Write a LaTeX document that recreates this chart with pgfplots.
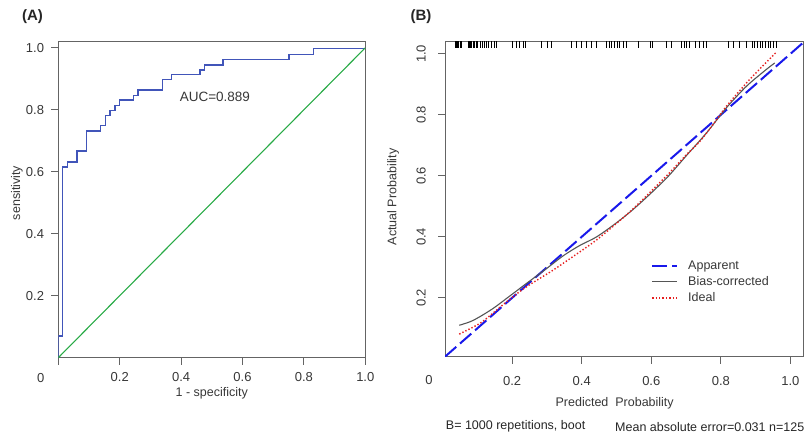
\documentclass[border=0pt]{standalone}
\usepackage{pgfplots}
\pgfplotsset{compat=1.18}
\usepackage{fontspec}
\setmainfont{Liberation Sans}
\definecolor{roc}{RGB}{65,85,185}
\definecolor{diag}{RGB}{40,170,70}
\definecolor{framec}{RGB}{100,100,100}
\definecolor{txt}{RGB}{55,55,55}
\definecolor{appblue}{RGB}{25,25,235}
\definecolor{biasgray}{RGB}{85,85,85}
\definecolor{idealred}{RGB}{230,30,30}
\pgfplotsset{
  common/.style={
    scale only axis,
    clip mode=individual,
    axis line style={framec, line width=0.9pt},
    tick style={framec, line width=0.9pt},
    tick align=outside,
    major tick length=7pt,
    xtick pos=bottom, ytick pos=left,
    tick label style={font=\fontsize{13}{15}\selectfont, text=txt},
    /pgf/number format/assume math mode=true,
    label style={font=\fontsize{12.5}{14}\selectfont, text=txt},
  }
}
\begin{document}
\begin{tikzpicture}[x=1pt,y=1pt]
\path[use as bounding box] (0,0) rectangle (804,436);
% ---------------- Panel A ----------------
\begin{axis}[common,
  width=307pt, height=316.7pt,
  at={(58.3pt,78.3pt)}, anchor=south west,
  xmin=0, xmax=1, ymin=0, ymax=1.022,
  xtick={0,0.2,0.4,0.6,0.8,1.0}, xticklabels={,0.2,0.4,0.6,0.8,1.0},
  ytick={0.2,0.4,0.6,0.8,1.0}, yticklabels={0.2,0.4,0.6,0.8,1.0},
  xticklabel style={anchor=center, yshift=-12.5pt, inner sep=0pt},
  yticklabel style={anchor=center, xshift=-16.3pt},
  xlabel={1 - specificity},
  ylabel={sensitivity},
  xlabel style={at={(axis description cs:0.5,-0.112)}, anchor=center, inner sep=0pt},
  ylabel style={at={(axis description cs:-0.1345,0.52)}, anchor=center},
]
\addplot[roc, line width=1.4pt] coordinates {
(0,0) (0,0.07) (0.013,0.07) (0.013,0.616) (0.029,0.616) (0.029,0.632)
(0.061,0.632) (0.061,0.667) (0.092,0.667) (0.092,0.732) (0.138,0.732)
(0.138,0.750) (0.153,0.750) (0.153,0.782) (0.169,0.782) (0.169,0.798)
(0.185,0.798) (0.185,0.814) (0.199,0.814) (0.199,0.831) (0.244,0.831)
(0.244,0.847) (0.259,0.847) (0.259,0.864) (0.339,0.864) (0.339,0.897)
(0.369,0.897) (0.369,0.913) (0.462,0.913) (0.462,0.929) (0.476,0.929)
(0.476,0.945) (0.536,0.945) (0.536,0.962) (0.752,0.962) (0.752,0.978)
(0.831,0.978) (0.831,0.998) (1.0,0.998)
};
\addplot[diag, line width=1.1pt] coordinates {(0,0) (1,1)};
\node[font=\fontsize{13.5}{15}\selectfont, text=txt] at (axis cs:0.51,0.842) {AUC=0.889};
\node[font=\fontsize{13}{15}\selectfont, text=txt] at (axis description cs:-0.057,-0.064) {0};
\node[font=\bfseries\fontsize{15}{17}\selectfont, text=black!85] at (axis description cs:-0.084,1.076) {(A)};
\end{axis}
% ---------------- Panel B ----------------
\begin{axis}[common,
  width=358.3pt, height=315.7pt,
  at={(445pt,79.3pt)}, anchor=south west,
  xmin=0.007, xmax=1.037, ymin=0.007, ymax=1.042,
  xtick={0.2,0.4,0.6,0.8,1.0}, xticklabels={0.2,0.4,0.6,0.8,1.0},
  ytick={0.2,0.4,0.6,0.8,1.0}, yticklabels={0.2,0.4,0.6,0.8,1.0},
  xticklabel style={anchor=center, yshift=-17.6pt},
  yticklabel style={anchor=center, xshift=-16.8pt, rotate=90},
  ylabel={Actual Probability},
  ylabel style={at={(axis description cs:-0.145,0.506)}, anchor=center},
  legend cell align=left,
  legend style={at={(axis description cs:0.575,0.312)}, anchor=north west,
    draw=none, fill=none, inner sep=0pt,
    font=\fontsize{12.5}{14}\selectfont, text=txt,
    row sep=0.5pt,
    nodes={inner ysep=2.5pt, inner xsep=4pt}},
  legend image code/.code={\draw[#1] (0pt,0pt) -- (25pt,0pt); \path (31pt,0pt);},
]
\addplot[appblue, line width=2pt, dash pattern=on 15pt off 5pt] coordinates {(0.007,0.007) (1.037,1.037)};
\addlegendentry{Apparent}
\addplot[biasgray, line width=1.1pt, smooth] coordinates {
(0.048,0.110) (0.08,0.122) (0.107,0.138) (0.145,0.165) (0.184,0.198)
(0.241,0.247) (0.299,0.296) (0.347,0.338) (0.395,0.372) (0.443,0.400)
(0.50,0.446) (0.548,0.490) (0.60,0.544) (0.65,0.600) (0.70,0.665)
(0.759,0.741) (0.816,0.823) (0.874,0.894) (0.931,0.949) (0.955,0.970)
};
\addlegendentry{Bias-corrected}
\addplot[idealred, line width=1.4pt, dash pattern=on 1.4pt off 2pt, smooth] coordinates {
(0.048,0.081) (0.107,0.116) (0.145,0.150) (0.184,0.187) (0.241,0.236)
(0.318,0.291) (0.395,0.351) (0.443,0.390) (0.50,0.444) (0.548,0.492)
(0.60,0.550) (0.65,0.607) (0.70,0.668) (0.739,0.712) (0.78,0.772)
(0.816,0.828) (0.883,0.916) (0.960,1.006)
};
\addlegendentry{Ideal}
\addplot[forget plot, only marks, mark=|, mark size=3.3pt, black, mark options={line width=0.8pt}] coordinates {
(0.036,1.031) (0.040,1.031) (0.043,1.031) (0.046,1.031) (0.050,1.031) (0.053,1.031)
(0.073,1.031) (0.077,1.031) (0.080,1.031) (0.084,1.031) (0.088,1.031) (0.092,1.031) (0.096,1.031) (0.100,1.031)
(0.110,1.031) (0.115,1.031) (0.120,1.031) (0.126,1.031)
(0.132,1.031) (0.140,1.031) (0.148,1.031) (0.156,1.031)
(0.200,1.031) (0.212,1.031) (0.222,1.031) (0.232,1.031) (0.238,1.031)
(0.285,1.031) (0.300,1.031) (0.314,1.031)
(0.371,1.031) (0.385,1.031) (0.399,1.031) (0.414,1.031) (0.428,1.031) (0.441,1.031)
(0.471,1.031) (0.479,1.031) (0.486,1.031) (0.494,1.031) (0.502,1.031) (0.509,1.031) (0.519,1.031) (0.529,1.031)
(0.562,1.031) (0.598,1.031) (0.603,1.031) (0.644,1.031) (0.658,1.031)
(0.687,1.031) (0.694,1.031) (0.702,1.031) (0.710,1.031) (0.727,1.031) (0.737,1.031) (0.749,1.031) (0.759,1.031)
(0.821,1.031) (0.835,1.031) (0.854,1.031) (0.874,1.031)
(0.890,1.031) (0.897,1.031) (0.905,1.031) (0.913,1.031) (0.920,1.031) (0.928,1.031) (0.936,1.031) (0.943,1.031) (0.951,1.031) (0.959,1.031)
};
\node[font=\fontsize{13}{15}\selectfont, text=txt] at (axis description cs:-0.0447,-0.0738) {0};
\node[font=\fontsize{12.5}{14}\selectfont, text=txt] at (axis description cs:0.4736,-0.149) {Predicted\ \ Probability};
\node[font=\fontsize{12.5}{14}\selectfont, text=black!85, anchor=west, inner sep=0pt] at (axis description cs:0.002,-0.2217) {B= 1000 repetitions, boot};
\node[font=\fontsize{12.5}{14}\selectfont, text=black!85, anchor=west, inner sep=0pt] at (axis description cs:0.4745,-0.2217) {Mean absolute error=0.031 n=125};
\node[font=\bfseries\fontsize{15}{17}\selectfont, text=black!85] at (axis description cs:-0.067,1.076) {(B)};
\end{axis}
\end{tikzpicture}
\end{document}
